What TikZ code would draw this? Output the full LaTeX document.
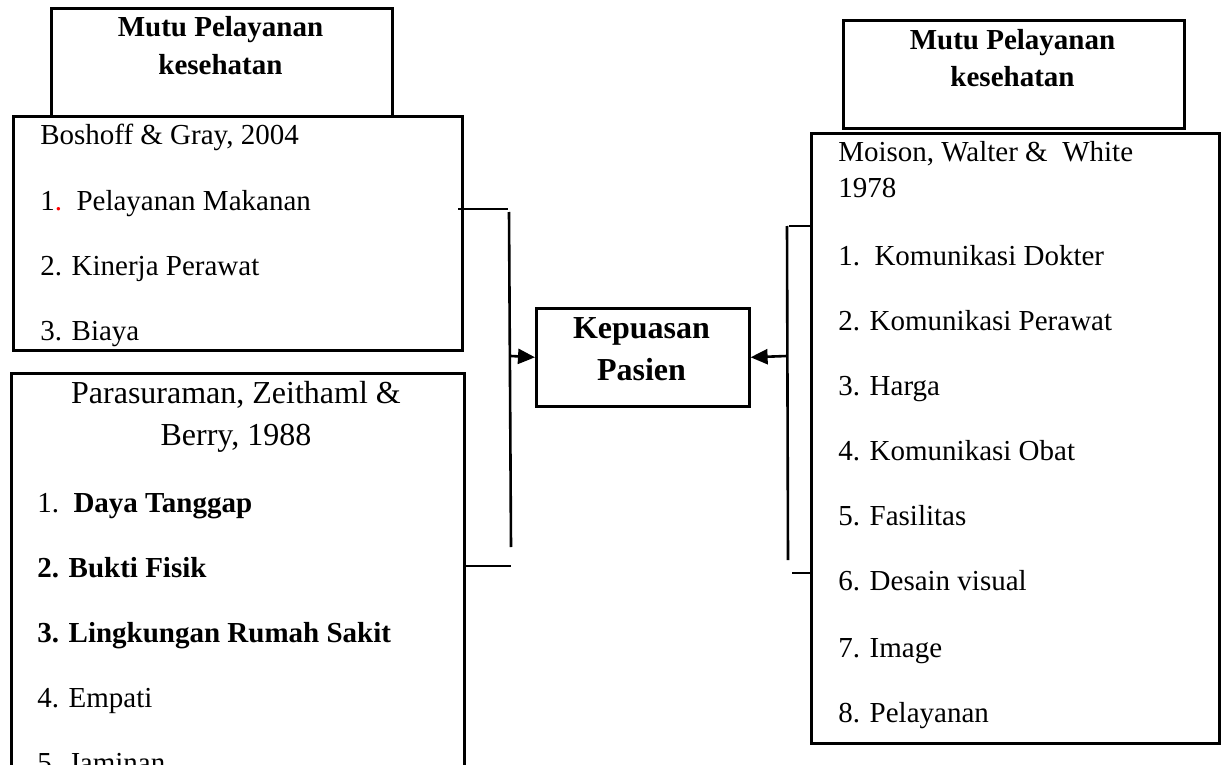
\documentclass[tikz,border=0pt]{standalone}
\usepackage{fontspec}
\setmainfont{Liberation Serif}
\usetikzlibrary{arrows.meta}

\begin{document}
\begin{tikzpicture}[x=0.5pt,y=-0.5pt,line width=1.3pt,
	box/.style={draw,rectangle,anchor=north west,inner sep=0pt},
	txt/.style={anchor=base west,inner sep=0pt,font=\fontsize{14.5}{17}\selectfont},
	head/.style={anchor=base,inner sep=0pt,font=\bfseries\fontsize{14.5}{17}\selectfont},
	tip/.style={-{Triangle[length=8.5pt,width=7.5pt]}}]
	\useasboundingbox (0,0) rectangle (1221,765);
	\clip (0,0) rectangle (1221,765);
	% left side
	\node[box,minimum width=170.5pt,minimum height=54pt] (hdrL) at (50,7) {};
	\node[head] (hdrL1) at (220.5,37) {Mutu Pelayanan};
	\node[head] (hdrL2) at (220.5,75) {kesehatan};
	\node[box,minimum width=224.5pt,minimum height=117pt] (boshoff) at (12,115) {};
	\node[txt] (b0) at (39,145) {Boshoff \& Gray, 2004};
	\node[txt] (b1) at (39,210) {1\textcolor{red}{.}\ \ Pelayanan Makanan};
	\node[txt] (b2) at (39,275) {2. Kinerja Perawat};
	\node[txt] (b3) at (39,340) {3. Biaya};
	\node[box,minimum width=226.5pt,minimum height=250pt] (paras) at (10,372) {};
	\node[head,font=\fontsize{16}{19}\selectfont] (p0) at (236,403) {Parasuraman, Zeithaml \&};
	\node[head,font=\fontsize{16}{19}\selectfont] (p00) at (236,445) {Berry, 1988};
	\node[txt] (p1) at (36,512) {1.\ \ \textbf{Daya Tanggap}};
	\node[txt] (p2) at (36,577) {\textbf{2. Bukti Fisik}};
	\node[txt] (p3) at (36,642) {\textbf{3. Lingkungan Rumah Sakit}};
	\node[txt] (p4) at (36,707) {4. Empati};
	\node[txt] (p5) at (36,772) {5. Jaminan};
	% middle
	\node[box,minimum width=106.5pt,minimum height=49pt] (kep) at (535,307) {};
	\node[head,font=\bfseries\fontsize{16}{19}\selectfont] (kep1) at (641.5,338) {Kepuasan};
	\node[head,font=\bfseries\fontsize{16}{19}\selectfont] (kep2) at (641.5,380) {Pasien};
	% right side
	\node[box,minimum width=170.5pt,minimum height=54pt] (hdrR) at (842,19) {};
	\node[head] (hdrR1) at (1012.5,50) {Mutu Pelayanan};
	\node[head] (hdrR2) at (1012.5,87) {kesehatan};
	\node[box,minimum width=204pt,minimum height=305pt] (moison) at (810,132) {};
	\node[txt] (m0) at (837,162) {Moison, Walter \&\ \ White};
	\node[txt] (m00) at (837,198) {1978};
	\node[txt] (m1) at (837,265) {1.\ \ Komunikasi Dokter};
	\node[txt] (m2) at (837,330) {2. Komunikasi Perawat};
	\node[txt] (m3) at (837,395) {3. Harga};
	\node[txt] (m4) at (837,460) {4. Komunikasi Obat};
	\node[txt] (m5) at (837,525) {5. Fasilitas};
	\node[txt] (m6) at (837,590) {6. Desain visual};
	\node[txt] (m7) at (837,657) {7. Image};
	\node[txt] (m8) at (837,722) {8. Pelayanan};
	% brackets
	\coordinate (lt) at (508,209);
	\coordinate (lb) at (511,566);
	\coordinate (lj) at (511,356);
	\draw (458,209) -- (lt);
	\draw (509,212) -- (511,547);
	\draw (paras.east |- lb) -- (lb);
	\draw[tip] (lj) -- (kep.west);
	\coordinate (rt) at (789,226);
	\coordinate (rb) at (792,573);
	\coordinate (rj) at (787,356);
	\draw (rt) -- (moison.west |- rt);
	\draw (787,226) -- (788,560);
	\draw (rb) -- (813,573);
	\draw[tip] (rj) -- (kep.east);
\end{tikzpicture}
\end{document}
